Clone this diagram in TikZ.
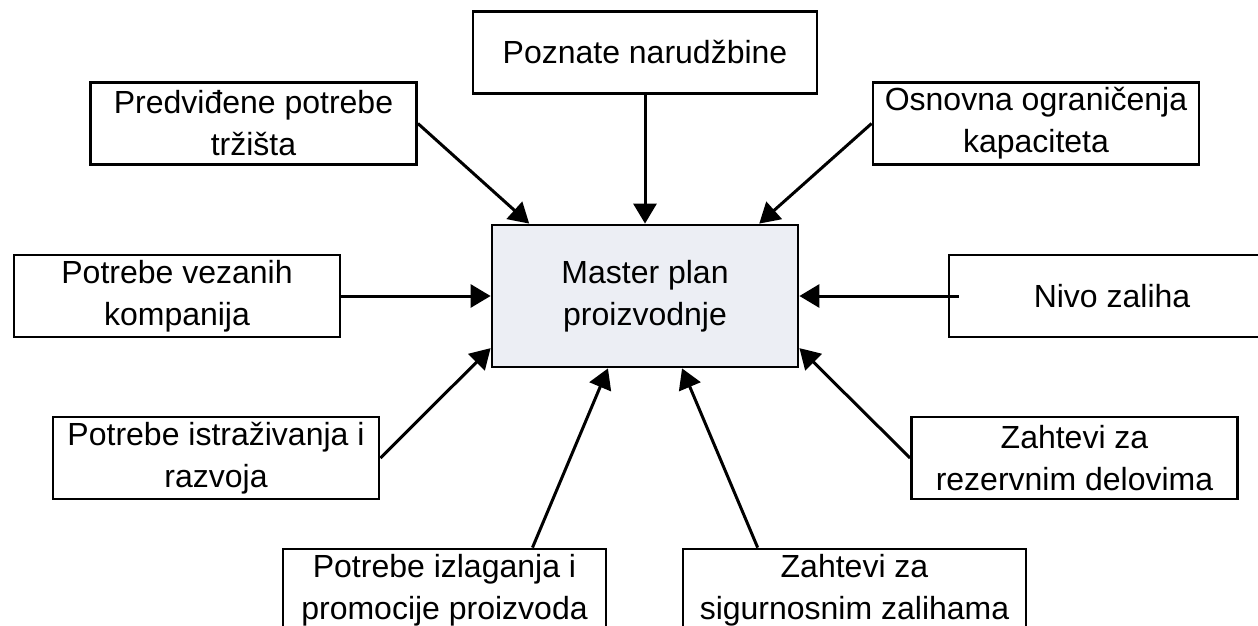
\documentclass[tikz,border=0pt]{standalone}
\usepackage{fontspec}
\setmainfont{Liberation Sans}
\usepackage{tikz}
\usetikzlibrary{arrows.meta,calc}

\definecolor{masterfill}{HTML}{ECEEF4}

\begin{document}
\begin{tikzpicture}[
  x=0.5pt,y=-0.5pt,
  box/.style={draw,line width=1.4pt,align=center,inner sep=0pt,
              font=\fontsize{16}{21}\selectfont,
              minimum width=163pt,minimum height=41pt},
  master/.style={box,fill=masterfill,minimum width=153pt,minimum height=71pt},
  >={Triangle[length=10pt,width=11.5pt]}]
\useasboundingbox (0,0) rectangle (1258,626);
\node[master] (master) at (645,296) {Master plan\\proizvodnje};
\node[box,minimum width=172pt] (poznate) at (645,52.5) {Poznate narudžbine};
\node[box] (predv)   at (253.5,123.5) {Predviđene potrebe\\tržišta};
\node[box] (osnovna) at (1036,123.5)  {Osnovna ograničenja\\kapaciteta};
\node[box] (vezanih) at (177,296)     {Potrebe vezanih\\kompanija};
\node[box] (nivo)    at (1112,296)    {Nivo zaliha};
\node[box] (istraz)  at (216,458)     {Potrebe istraživanja i\\razvoja};
\node[box] (rezerv)  at (1074.5,458)  {Zahtevi za\\rezervnim delovima};
\node[box,minimum width=161.5pt] (izlag) at (444.5,590) {Potrebe izlaganja i\\promocije proizvoda};
\node[box,minimum width=171.5pt] (sigur) at (854.5,590) {Zahtevi za\\sigurnosnim zalihama};
\draw[->,line width=1.5pt] (poznate) -- (master);
\draw[->,line width=1.5pt] (predv.east) -- ($(master.north west)!0.125!(master.north east)$);
\draw[->,line width=1.5pt] (osnovna.west) -- ($(master.north west)!0.87!(master.north east)$);
\draw[->,line width=1.5pt] (vezanih.east) -- (master.west);
\draw[->,line width=1.5pt] ([xshift=5.5pt]nivo.west) -- (master.east);
\draw[->,line width=1.5pt] (istraz.east) -- ($(master.south west)!0.14!(master.north west)$);
\draw[->,line width=1.5pt] (rezerv.west) -- ($(master.south east)!0.14!(master.north east)$);
\draw[->,line width=1.5pt] ($(izlag.north west)!0.77!(izlag.north east)$) -- ($(master.south west)!0.38!(master.south east)$);
\draw[->,line width=1.5pt] ($(sigur.north west)!0.22!(sigur.north east)$) -- ($(master.south west)!0.62!(master.south east)$);
\end{tikzpicture}
\end{document}
